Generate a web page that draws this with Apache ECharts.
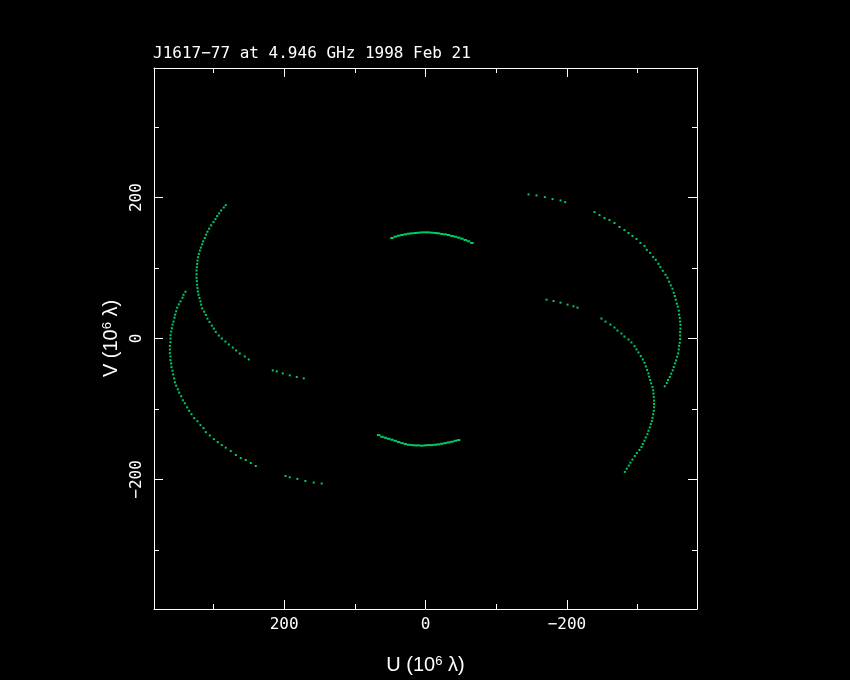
<!DOCTYPE html>
<html><head><meta charset="utf-8">
<script src="https://cdn.jsdelivr.net/npm/echarts@6/dist/echarts.min.js"></script>
<style>html,body{margin:0;padding:0;background:#000}#c{width:850px;height:680px}</style>
</head><body><div id="c"></div>
<script>
const titleText = 'J1617\u221277 at 4.946 GHz 1998 Feb 21';
const xName = 'U (10{sup|6} \u03bb)';
const yName = 'V (10{sup|6} \u03bb)';
const axisMin = -384, axisMax = 384;
const majorTicks = [-200, 0, 200];
const minorTicks = [-300, -100, 100, 300];

const leftOuter = [[339.5,66.4],[342.3,62.1],[343.7,57.9],[346.5,52.7],[348.9,48.5],[351.2,43.8],[352.7,38.6],[354.1,33.9],[355.0,29.6],[356.4,24.0],[357.8,19.7],[358.8,14.6],[359.7,9.8],[360.7,4.7],[360.7,-0.1],[360.7,-5.2],[361.6,-10.4],[361.6,-15.6],[361.6,-20.8],[360.7,-25.5],[360.7,-30.7],[359.7,-35.4],[359.3,-40.6],[357.8,-45.7],[356.9,-50.9],[355.5,-56.6],[354.5,-62.2],[352.7,-66.9],[350.3,-72.1],[348.4,-76.8],[345.6,-82.0],[343.2,-87.7],[340.4,-91.9],[337.1,-97.6],[334.3,-102.7],[331.0,-107.5],[327.2,-113.1],[322.5,-117.4],[318.3,-123.0],[314.0,-127.2],[310.7,-132.9],[305.1,-137.6],[299.4,-142.8],[293.8,-147.0],[288.1,-151.3],[282.5,-155.0],[275.4,-159.8],[268.3,-165.4],[261.3,-169.7],[254.2,-172.5],[247.1,-176.7],[240.1,-181.0],[198.1,-195.1],[192.0,-197.0],[181.2,-199.3],[169.9,-202.2],[158.1,-204.5],[146.8,-205.9]];

const leftInner = [[282.5,189.3],[285.3,186.0],[289.1,181.8],[291.9,177.6],[294.7,173.8],[297.1,169.5],[299.9,165.3],[303.2,160.6],[306.0,155.9],[308.4,151.6],[310.3,147.4],[312.1,142.7],[314.5,138.0],[315.9,133.7],[317.8,129.0],[319.2,124.8],[320.6,120.1],[321.6,115.4],[322.5,110.7],[323.0,105.9],[323.4,101.2],[323.9,96.5],[323.9,91.3],[323.9,86.2],[323.4,81.4],[323.0,76.3],[322.5,71.6],[322.0,66.8],[321.1,62.1],[319.7,57.4],[318.3,52.7],[317.3,48.0],[315.9,42.8],[313.1,38.1],[310.7,33.4],[308.4,28.2],[305.5,23.5],[302.2,18.3],[299.4,14.1],[296.6,9.4],[292.4,4.2],[288.1,0.0],[283.0,-4.3],[278.2,-8.5],[272.6,-12.8],[267.9,-17.0],[262.7,-21.3],[255.6,-25.5],[250.0,-29.7],[216.0,-45.3],[210.4,-46.7],[201.9,-49.5],[192.0,-52.3],[182.1,-54.7],[172.2,-56.6]];

const rightOuter = [[-145.7,204.5],[-157.0,203.1],[-168.8,200.7],[-179.7,197.9],[-191.0,196.0],[-197.6,193.6],[-239.0,179.5],[-246.1,175.3],[-253.2,171.0],[-260.2,168.2],[-267.3,164.0],[-274.4,158.3],[-281.4,154.1],[-287.1,149.8],[-292.7,145.6],[-298.4,141.3],[-304.0,135.7],[-309.7,131.5],[-313.0,125.8],[-317.7,121.6],[-321.9,115.9],[-325.7,111.7],[-329.5,106.0],[-332.3,101.3],[-335.6,96.1],[-339.4,90.5],[-342.2,86.2],[-344.5,80.6],[-346.9,75.4],[-349.3,70.7],[-351.1,65.0],[-352.6,60.3],[-354.0,55.1],[-355.4,49.5],[-356.8,45.2],[-358.2,39.6],[-358.7,33.9],[-359.6,29.2],[-360.1,24.0],[-360.6,19.3],[-360.6,14.1],[-360.1,9.4],[-360.1,4.2],[-360.1,-0.9],[-359.6,-6.1],[-358.7,-10.4],[-358.2,-15.5],[-357.3,-21.2],[-355.9,-25.9],[-354.4,-31.1],[-353.0,-35.3],[-351.1,-40.5],[-349.7,-45.2],[-347.4,-49.9],[-345.5,-54.6],[-343.1,-58.9],[-341.3,-63.1],[-338.4,-67.8]];

const rightInner = [[-171.2,55.1],[-181.1,53.2],[-191.0,50.9],[-200.9,48.1],[-209.3,45.7],[-215.0,43.8],[-248.9,28.3],[-254.6,24.0],[-261.6,19.8],[-267.3,15.6],[-271.5,11.3],[-277.2,7.1],[-281.4,2.8],[-287.1,-1.4],[-291.3,-5.6],[-295.6,-10.8],[-298.4,-15.5],[-301.2,-19.8],[-304.5,-25.0],[-307.3,-29.7],[-309.7,-34.4],[-311.6,-39.6],[-313.5,-44.7],[-315.3,-49.5],[-316.3,-54.2],[-317.7,-58.9],[-319.1,-63.6],[-321.0,-68.8],[-322.0,-73.5],[-322.4,-78.2],[-322.9,-82.9],[-323.3,-88.1],[-323.3,-92.8],[-323.3,-97.5],[-322.9,-102.7],[-322.0,-107.4],[-321.0,-112.6],[-320.1,-117.3],[-318.6,-121.5],[-317.2,-126.2],[-315.3,-131.0],[-313.9,-135.7],[-311.6,-140.4],[-309.7,-145.1],[-307.3,-149.8],[-305.5,-154.0],[-302.6,-158.3],[-298.9,-162.5],[-296.0,-166.8],[-292.7,-171.9],[-289.9,-176.2],[-287.5,-180.4],[-284.7,-184.7],[-281.9,-189.4]];

const centerTop = [[47.4,142.7],[42.7,144.6],[38.0,146.0],[33.3,146.9],[28.6,147.9],[23.9,148.8],[19.2,149.3],[14.5,149.8],[9.8,150.2],[5.0,150.7],[0.3,150.7],[-4.4,150.7],[-9.1,150.2],[-13.8,149.8],[-18.5,149.3],[-23.2,148.3],[-27.9,147.9],[-32.6,146.9],[-37.4,145.5],[-42.1,144.6],[-46.8,143.2],[-51.5,141.7],[-56.2,139.9],[-60.9,138.0],[-65.6,135.6]];

const centerBottom = [[66.3,-137.1],[61.6,-139.5],[56.9,-140.9],[52.2,-142.3],[47.4,-143.7],[42.7,-145.2],[38.0,-147.0],[33.3,-148.5],[28.6,-149.9],[23.9,-150.8],[19.2,-151.3],[14.5,-151.7],[9.8,-151.7],[5.0,-152.2],[0.3,-151.7],[-4.4,-151.3],[-9.1,-151.3],[-13.8,-150.8],[-18.5,-150.3],[-23.2,-149.4],[-27.9,-148.5],[-32.6,-147.5],[-37.4,-146.6],[-42.1,-145.2],[-46.8,-144.2]];

const FONT = 'DejaVu Sans Mono';
const NAMEFONT = 'Liberation Sans';
const WHITE = '#ffffff';
const GREEN = '#00ff80';
function fmt(v) { return v < 0 ? '\u2212' + Math.abs(v) : String(v); }
const richSup = { sup: { fontSize: 13, fontFamily: NAMEFONT, color: WHITE, verticalAlign: 'bottom', padding: [0, 0, 8, 0] } };

function makeAxis(isX, pos, ticks, len, withLabels, withLine, name) {
  const ax = {
    type: 'value', min: axisMin, max: axisMax, position: pos,
    inverse: isX,
    axisLine: { show: withLine, onZero: false, lineStyle: { color: WHITE, width: 1 } },
    axisTick: { show: true, inside: true, length: len, customValues: ticks, lineStyle: { color: WHITE, width: 1 } },
    axisLabel: { show: withLabels, customValues: ticks, formatter: fmt, color: WHITE, fontFamily: FONT, fontSize: 16,
                 margin: isX ? 8 : 9, rotate: isX ? 0 : 90 },
    splitLine: { show: false }
  };
  if (name) {
    ax.name = name;
    ax.nameLocation = 'middle';
    ax.nameGap = isX ? 56 : 42;
    if (!isX) ax.nameRotate = 90;
    ax.nameTextStyle = { color: WHITE, fontFamily: NAMEFONT, fontSize: 20, verticalAlign: 'middle', rich: richSup };
  }
  return ax;
}

function scatter(name, data, size) {
  return { type: 'scatter', name: name, data: data, xAxisIndex: 0, yAxisIndex: 0,
           symbol: 'rect', symbolSize: size, itemStyle: { color: GREEN }, silent: true };
}

const chart = echarts.init(document.getElementById('c'), null, { renderer: 'canvas' });
chart.setOption({
  backgroundColor: '#000000',
  animation: false,
  title: { text: titleText, left: 153, top: 46, padding: 0,
           textStyle: { color: WHITE, fontFamily: FONT, fontSize: 16, fontWeight: 'normal' } },
  grid: { left: 154, top: 68, width: 543, height: 543, show: false },
  xAxis: [
    makeAxis(true, 'bottom', majorTicks, 9, true, true, xName),
    makeAxis(true, 'bottom', minorTicks, 5, false, false),
    makeAxis(true, 'top', majorTicks, 9, false, true),
    makeAxis(true, 'top', minorTicks, 5, false, false)
  ],
  yAxis: [
    makeAxis(false, 'left', majorTicks, 9, true, true, yName),
    makeAxis(false, 'left', minorTicks, 5, false, false),
    makeAxis(false, 'right', majorTicks, 9, false, true),
    makeAxis(false, 'right', minorTicks, 5, false, false)
  ],
  series: [
    scatter('leftOuter', leftOuter, 2),
    scatter('leftInner', leftInner, 2),
    scatter('rightOuter', rightOuter, 2),
    scatter('rightInner', rightInner, 2),
    scatter('centerTop', centerTop, [3.5, 2]),
    scatter('centerBottom', centerBottom, [3.5, 2])
  ]
});
</script></body></html>
